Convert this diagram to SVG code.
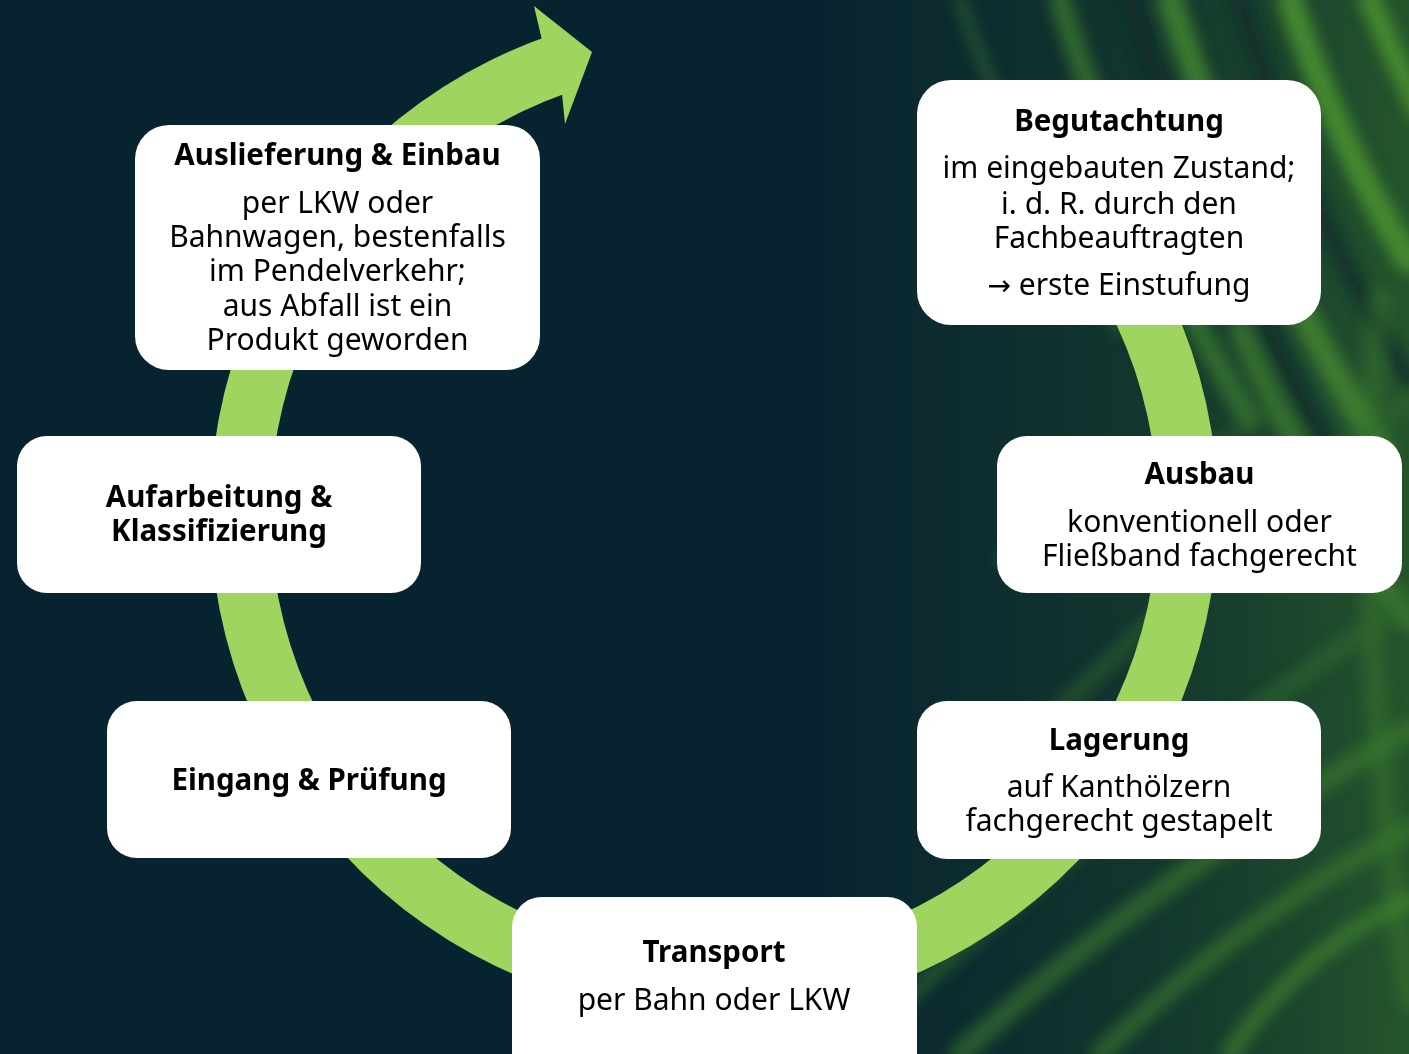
<svg xmlns="http://www.w3.org/2000/svg" width="1409" height="1054" viewBox="0 0 1409 1054">
<style>
.box{fill:#ffffff}
.t{font-family:"Noto Sans","Liberation Sans",sans-serif;font-size:29.5px;font-weight:700;fill:#000;text-anchor:middle}
.b{font-family:"Noto Sans","Liberation Sans",sans-serif;font-size:30px;font-weight:400;fill:#000;text-anchor:middle}
.arr{font-family:"DejaVu Sans","Noto Sans",sans-serif;font-size:28px}
.s{fill:none;stroke-linecap:round}
</style>
<defs>
<filter id="blur" x="-20%" y="-20%" width="140%" height="140%"><feGaussianBlur stdDeviation="7"/></filter>
<linearGradient id="glow" x1="0" y1="0" x2="1" y2="0">
<stop offset="0" stop-color="#1e4a2c" stop-opacity="0"/>
<stop offset="0.55" stop-color="#1e4a2c" stop-opacity="0.5"/>
<stop offset="1" stop-color="#2a5e2c" stop-opacity="0.85"/>
</linearGradient>
</defs>
<rect id="background" x="0" y="0" width="1409" height="1054" fill="#082330"/>
<g id="texture">
<rect x="820" y="0" width="589" height="1054" fill="url(#glow)"/>
<g filter="url(#blur)" class="s">
<path d="M960 0 Q1010 150 1120 330" stroke="#2f6a30" stroke-width="14" opacity="0.5"/>
<path d="M1060 0 Q1120 200 1250 420" stroke="#3b7d2c" stroke-width="22" opacity="0.7"/>
<path d="M1130 0 Q1200 220 1330 450" stroke="#0a2a2c" stroke-width="18" opacity="0.8"/>
<path d="M1170 0 Q1240 220 1380 450" stroke="#44882e" stroke-width="26" opacity="0.8"/>
<path d="M1240 0 Q1300 200 1409 380" stroke="#0b2b2c" stroke-width="18" opacity="0.8"/>
<path d="M1290 0 Q1340 150 1409 260" stroke="#4a9230" stroke-width="26" opacity="0.85"/>
<path d="M1370 0 Q1395 60 1420 110" stroke="#4a9230" stroke-width="22" opacity="0.85"/>
<path d="M1240 330 Q1300 470 1409 620" stroke="#3e802d" stroke-width="22" opacity="0.7"/>
<path d="M1380 300 Q1350 600 1409 1000" stroke="#3a7a2c" stroke-width="22" opacity="0.45"/>
<path d="M850 1054 Q1050 850 1409 600" stroke="#2f6a2e" stroke-width="20" opacity="0.55"/>
<path d="M960 1054 Q1150 880 1409 730" stroke="#3a7a2c" stroke-width="22" opacity="0.6"/>
<path d="M1100 1054 Q1250 910 1409 830" stroke="#3a7a2c" stroke-width="20" opacity="0.6"/>
<path d="M1050 720 Q1250 520 1409 400" stroke="#2f6a2e" stroke-width="18" opacity="0.5"/>
<path d="M1000 560 Q1150 480 1260 420" stroke="#2a602c" stroke-width="14" opacity="0.45"/>
<path d="M1230 1054 Q1300 950 1409 900" stroke="#44882e" stroke-width="18" opacity="0.6"/>
</g>
</g>
<g id="connectors">
<path id="cycle-arrow" fill="#9fd55f" d="M1038.0 125.9 A504 504 0 1 1 541.6 38.4 L534 6 L592 52 L565 124 L562.1 94.8 A444 444 0 1 0 999.4 171.9 Z"/>
</g>
<g id="node-auslieferung">
<rect class="box" x="135" y="125" width="405" height="245" rx="34"/>
<text class="t" x="337.5" y="165">Auslieferung &amp; Einbau</text>
<text class="b" x="337.5" y="213">per LKW oder</text>
<text class="b" x="337.5" y="247">Bahnwagen, bestenfalls</text>
<text class="b" x="337.5" y="281">im Pendelverkehr;</text>
<text class="b" x="337.5" y="316">aus Abfall ist ein</text>
<text class="b" x="337.5" y="350">Produkt geworden</text>
</g>
<g id="node-begutachtung">
<rect class="box" x="917" y="80" width="404" height="245" rx="34"/>
<text class="t" x="1119" y="131">Begutachtung</text>
<text class="b" x="1119" y="178">im eingebauten Zustand;</text>
<text class="b" x="1119" y="214">i. d. R. durch den</text>
<text class="b" x="1119" y="248">Fachbeauftragten</text>
<text class="b" x="1119" y="295"><tspan class="arr">→</tspan> erste Einstufung</text>
</g>
<g id="node-aufarbeitung">
<rect class="box" x="17" y="436" width="404" height="157" rx="30"/>
<text class="t" x="219" y="507">Aufarbeitung &amp;</text>
<text class="t" x="219" y="541">Klassifizierung</text>
</g>
<g id="node-ausbau">
<rect class="box" x="997" y="436" width="405" height="157" rx="30"/>
<text class="t" x="1199.5" y="484">Ausbau</text>
<text class="b" x="1199.5" y="532">konventionell oder</text>
<text class="b" x="1199.5" y="566">Fließband fachgerecht</text>
</g>
<g id="node-eingang">
<rect class="box" x="107" y="701" width="404" height="157" rx="30"/>
<text class="t" x="309" y="790">Eingang &amp; Prüfung</text>
</g>
<g id="node-lagerung">
<rect class="box" x="917" y="701" width="404" height="158" rx="30"/>
<text class="t" x="1119" y="750">Lagerung</text>
<text class="b" x="1119" y="797">auf Kanthölzern</text>
<text class="b" x="1119" y="831">fachgerecht gestapelt</text>
</g>
<g id="node-transport">
<rect class="box" x="512" y="897" width="405" height="190" rx="30"/>
<text class="t" x="714" y="962">Transport</text>
<text class="b" x="714" y="1010">per Bahn oder LKW</text>
</g>
</svg>
